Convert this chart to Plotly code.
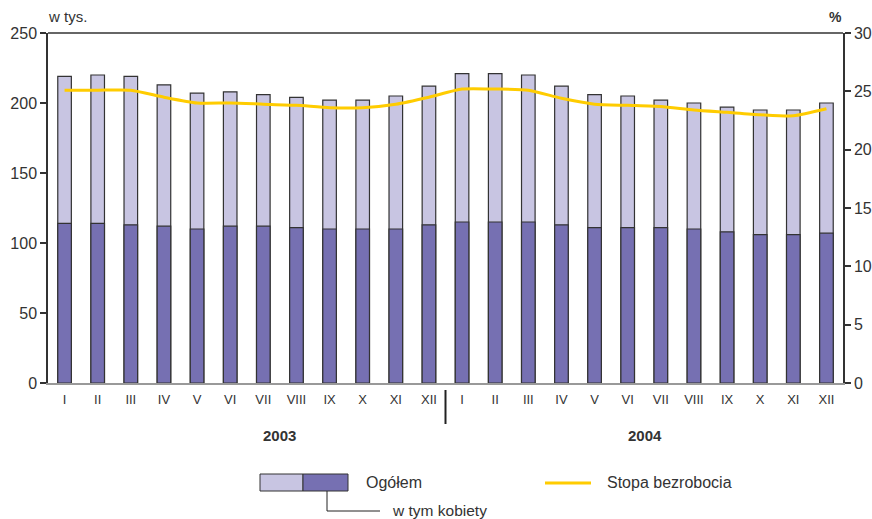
import plotly.graph_objects as go

months = ["I", "II", "III", "IV", "V", "VI", "VII", "VIII", "IX", "X", "XI", "XII"]
years = ["2003", "2004"]
tick_labels = months + months

total = [219, 220, 219, 213, 207, 208, 206, 204, 202, 202, 205, 212,
         221, 221, 220, 212, 206, 205, 202, 200, 197, 195, 195, 200]
women = [114, 114, 113, 112, 110, 112, 112, 111, 110, 110, 110, 113,
         115, 115, 115, 113, 111, 111, 111, 110, 108, 106, 106, 107]
rate = [25.1, 25.1, 25.1, 24.5, 24.0, 24.0, 23.9, 23.8, 23.6, 23.6, 23.9, 24.5,
        25.2, 25.2, 25.1, 24.4, 23.9, 23.8, 23.7, 23.4, 23.2, 23.0, 22.9, 23.5]

W, H = 872, 519
# plot area in page pixels
L, R, T, B = 48, 843, 33, 383
FONT = "Arial, Liberation Sans, sans-serif"
TXT = "#333333"
LIGHT = "#c8c5e2"
DARK = "#7670b2"
YEL = "#ffcc00"


def px(x):
    return (x - L) / (R - L)


def py(y):
    return (B - y) / (B - T)


xs = list(range(len(tick_labels)))

fig = go.Figure()
fig.add_trace(go.Bar(x=xs, y=total, width=0.41, marker=dict(color=LIGHT, line=dict(color="#333333", width=1.2)),
                     name="Ogółem", showlegend=False))
fig.add_trace(go.Bar(x=xs, y=women, width=0.41, marker=dict(color=DARK, line=dict(color="#333333", width=1.2)),
                     name="w tym kobiety", showlegend=False))
fig.add_trace(go.Scatter(x=xs, y=rate, yaxis="y2", mode="lines",
                         line=dict(color=YEL, width=3, shape="spline", smoothing=0.6),
                         name="Stopa bezrobocia", showlegend=False))

shapes = []
# top frame
shapes.append(dict(type="line", xref="paper", yref="paper", x0=0, x1=1, y0=1, y1=1,
                   line=dict(color="#333333", width=1.5)))
# year separator
shapes.append(dict(type="line", xref="x", yref="paper", x0=11.5, x1=11.5, y0=py(390), y1=py(424),
                   line=dict(color="#222222", width=2)))
# legend
shapes.append(dict(type="rect", xref="paper", yref="paper", x0=px(260), x1=px(303), y0=py(491), y1=py(474),
                   fillcolor=LIGHT, line=dict(color="#333333", width=1)))
shapes.append(dict(type="rect", xref="paper", yref="paper", x0=px(303), x1=px(348), y0=py(491), y1=py(474),
                   fillcolor=DARK, line=dict(color="#333333", width=1)))
shapes.append(dict(type="path", xref="paper", yref="paper",
                   path=f"M {px(327)},{py(491)} L {px(327)},{py(511)} L {px(380)},{py(511)}",
                   line=dict(color="#222222", width=1)))
shapes.append(dict(type="line", xref="paper", yref="paper", x0=px(545), x1=px(591), y0=py(483), y1=py(483),
                   line=dict(color=YEL, width=3)))

ann = []


def text(s, x, y, anchor="left", size=16, bold=False):
    ann.append(dict(text=f"<b>{s}</b>" if bold else s, xref="paper", yref="paper", x=px(x), y=py(y),
                    xanchor=anchor, yanchor="middle", showarrow=False,
                    font=dict(family=FONT, size=size, color=TXT)))


text("w tys.", 46, 16.5, size=15)
text("%", 844, 17, anchor="right", size=14, bold=True)
text(years[0], 279.5, 435.5, anchor="center", size=15, bold=True)
text(years[1], 645, 435.5, anchor="center", size=15, bold=True)
text("Ogółem", 364, 482.5)
text("w tym kobiety", 390, 510.5, size=15.5)
text("Stopa bezrobocia", 605, 482.5)

fig.update_layout(
    width=W, height=H,
    margin=dict(l=L, r=W - R, t=T, b=H - B, pad=0, autoexpand=False),
    paper_bgcolor="white", plot_bgcolor="white",
    barmode="overlay", bargap=0.59,
    font=dict(family=FONT, color=TXT),
    shapes=shapes, annotations=ann,
    xaxis=dict(range=[-0.5, 23.5], tickvals=xs, ticktext=tick_labels, ticks="outside", ticklen=4,
               tickcolor="rgba(0,0,0,0)", showgrid=False,
               showline=True, linecolor="#999999", linewidth=1.5, zeroline=False, automargin=False,
               tickfont=dict(family=FONT, size=13, color=TXT), fixedrange=True),
    yaxis=dict(range=[0, 250], dtick=50, ticks="outside", ticklen=6, tickcolor="#333333", tickwidth=1.5,
               showline=True, linecolor="#333333", linewidth=1.5, showgrid=False, zeroline=False,
               automargin=False, tickfont=dict(family=FONT, size=16, color=TXT)),
    yaxis2=dict(range=[0, 30], dtick=5, overlaying="y", side="right", ticks="outside", ticklen=6,
                tickcolor="#333333", tickwidth=1.5, showline=True, linecolor="#333333", linewidth=1.5,
                showgrid=False, zeroline=False, automargin=False,
                tickfont=dict(family=FONT, size=16, color=TXT)),
)

fig.write_html("out.html", config={"displayModeBar": False},
               post_script="document.documentElement.style.margin='0';document.body.style.margin='0';"
                           "document.body.style.overflow='hidden';")
